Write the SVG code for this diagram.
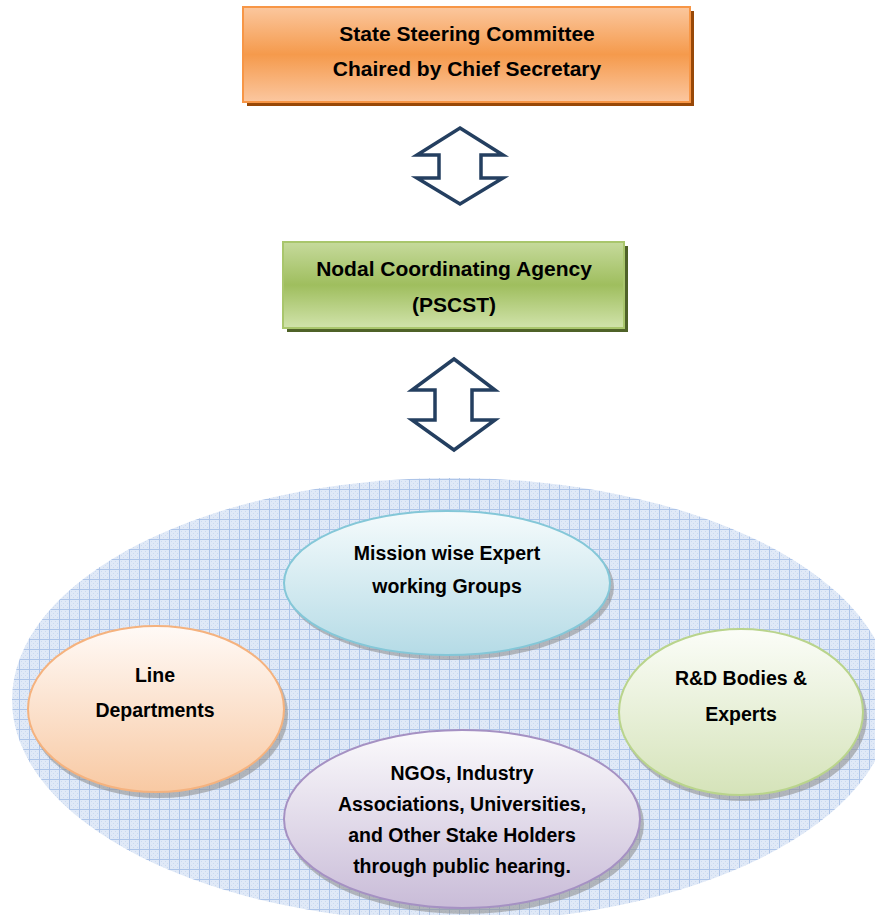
<svg xmlns="http://www.w3.org/2000/svg" width="875" height="915" viewBox="0 0 875 915">
<defs>
<linearGradient id="gOr" x1="0" y1="0" x2="0" y2="1">
<stop offset="0" stop-color="#fbc79e"/><stop offset="0.5" stop-color="#f59a4c"/><stop offset="1" stop-color="#fbc7a0"/>
</linearGradient>
<linearGradient id="gGr" x1="0" y1="0" x2="0" y2="1">
<stop offset="0" stop-color="#c6da9c"/><stop offset="0.5" stop-color="#9fbe5e"/><stop offset="1" stop-color="#d1e3ab"/>
</linearGradient>
<linearGradient id="eBlue" x1="0" y1="0" x2="0" y2="1">
<stop offset="0" stop-color="#f5fbfc"/><stop offset="1" stop-color="#b5dbe6"/>
</linearGradient>
<linearGradient id="eOr" x1="0" y1="0" x2="0" y2="1">
<stop offset="0" stop-color="#fffaf7"/><stop offset="1" stop-color="#f8c9a3"/>
</linearGradient>
<linearGradient id="eGr" x1="0" y1="0" x2="0" y2="1">
<stop offset="0" stop-color="#fbfdf8"/><stop offset="1" stop-color="#d5e3b9"/>
</linearGradient>
<linearGradient id="ePu" x1="0" y1="0" x2="0" y2="1">
<stop offset="0" stop-color="#fbfafc"/><stop offset="1" stop-color="#c9bcd8"/>
</linearGradient>
<pattern id="grid" width="10" height="10" patternUnits="userSpaceOnUse">
<rect width="10" height="10" fill="#e0e9f7"/>
<path d="M1 1h1v1h-1zM3 3h1v1h-1zM5 1h1v1h-1zM7 3h1v1h-1zM1 5h1v1h-1zM3 7h1v1h-1zM5 5h1v1h-1zM7 7h1v1h-1z" fill="#cbdaf0"/>
<path d="M0 9.5H10M9.5 0V10" stroke="#adc4e8" stroke-width="1"/>
</pattern>
</defs>
<style>
.t{font-family:"Liberation Sans",Arial,sans-serif;font-weight:bold;fill:#000;text-anchor:middle}
.box{font-size:21px}
.el{font-size:19.5px}
.arr{fill:#fff;stroke:#243f60;stroke-width:3.5;stroke-linejoin:miter}
.sh{fill:#8a8a8a;opacity:0.55}
</style>

<g id="background">
<ellipse cx="452" cy="700" rx="440" ry="222" fill="url(#grid)"/>
</g>

<g id="connectors">
<path class="arr" d="M460 128 L503 155 L481 155 L481 178 L503 178 L460 204 L417 178 L439 178 L439 155 L417 155 Z"/>
<path class="arr" d="M454 359 L495 390 L472 390 L472 420 L495 420 L454 450 L412 420 L435 420 L435 390 L412 390 Z"/>
</g>

<g id="state-steering">
<rect x="247" y="11" width="447" height="95" fill="#984807"/>
<rect x="243" y="7" width="447" height="95" fill="url(#gOr)" stroke="#f79646" stroke-width="2"/>
<text class="t box" x="467" y="41">State Steering Committee</text>
<text class="t box" x="467" y="76">Chaired by Chief Secretary</text>
</g>

<g id="nodal-agency">
<rect x="287" y="246" width="341" height="86" fill="#4f6228"/>
<rect x="283" y="242" width="341" height="86" fill="url(#gGr)" stroke="#a9c66c" stroke-width="2"/>
<text class="t box" x="454" y="276">Nodal Coordinating Agency</text>
<text class="t box" x="454" y="312">(PSCST)</text>
</g>

<g id="mission-groups">
<ellipse class="sh" cx="450" cy="587" rx="164" ry="73"/>
<ellipse cx="447" cy="583" rx="163" ry="72" fill="url(#eBlue)" stroke="#84c7d8" stroke-width="2"/>
<text class="t el" x="447" y="560">Mission wise Expert</text>
<text class="t el" x="447" y="593">working Groups</text>
</g>

<g id="line-departments">
<ellipse class="sh" cx="159" cy="714" rx="129" ry="84"/>
<ellipse cx="156" cy="709" rx="128" ry="83" fill="url(#eOr)" stroke="#f5b27e" stroke-width="2"/>
<text class="t el" x="155" y="682">Line</text>
<text class="t el" x="155" y="717">Departments</text>
</g>

<g id="rd-bodies">
<ellipse class="sh" cx="744" cy="717" rx="123" ry="84"/>
<ellipse cx="741" cy="712" rx="122" ry="83" fill="url(#eGr)" stroke="#b9d48c" stroke-width="2"/>
<text class="t el" x="741" y="685">R&amp;D Bodies &amp;</text>
<text class="t el" x="741" y="721">Experts</text>
</g>

<g id="ngos">
<ellipse class="sh" cx="465" cy="824" rx="179" ry="90"/>
<ellipse cx="462" cy="819" rx="178" ry="89" fill="url(#ePu)" stroke="#a591c3" stroke-width="2"/>
<text class="t el" x="462" y="780">NGOs, Industry</text>
<text class="t el" x="462" y="811">Associations, Universities,</text>
<text class="t el" x="462" y="842">and Other Stake Holders</text>
<text class="t el" x="462" y="873">through public hearing.</text>
</g>
</svg>
